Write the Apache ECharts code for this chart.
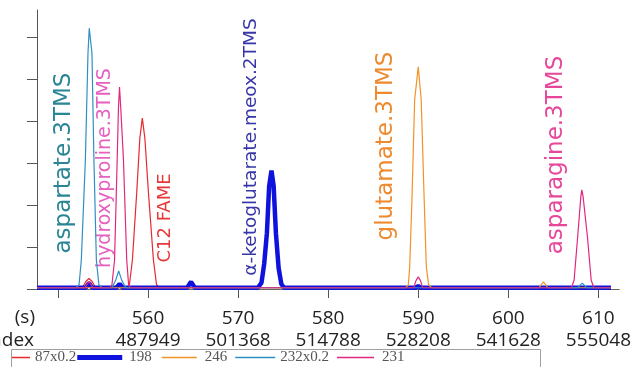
<!DOCTYPE html>
<html>
<head>
<meta charset="utf-8">
<script src="https://cdn.jsdelivr.net/npm/echarts@6/dist/echarts.min.js"></script>
<style>
  html, body { margin: 0; padding: 0; background: #ffffff; }
  #chart { width: 634px; height: 367px; }
</style>
</head>
<body>
<div id="chart"></div>
<script>
// Extracted-ion traces: retention time (s) and intensity (arbitrary units)
const traceNames = ['87x0.2', '198', '246', '232x0.2', '231'];

const t87 = [547.68, 552.7, 553.1, 553.45, 553.8, 554.2, 557.9, 558.27, 558.75, 559.1, 559.37, 559.65, 560.05, 560.6, 560.95, 561.3, 611.4];
const v87 = [0.03, 0.03, 0.18, 0.25, 0.18, 0.03, 0.03, 0.69, 2.3, 3.6, 4.07, 3.6, 2.3, 0.7, 0.1, 0.03, 0.03];

const t198 = [547.68, 553.1, 553.45, 553.8, 556.5, 556.85, 557.2, 564.35, 564.78, 565.2, 572.2, 572.6, 572.9, 573.2, 573.45, 573.71, 573.95, 574.2, 574.5, 574.8, 575.1, 589.7, 590.0, 590.3, 611.4];
const v198 = [0.03, 0.03, 0.14, 0.03, 0.03, 0.12, 0.03, 0.03, 0.17, 0.03, 0.03, 0.15, 0.6, 1.33, 2.45, 2.82, 2.45, 1.33, 0.5, 0.12, 0.03, 0.03, 0.07, 0.03, 0.03];

const t246 = [547.68, 588.6, 588.9, 589.05, 589.3, 589.6, 590.0, 590.33, 590.66, 590.9, 591.15, 591.5, 603.4, 603.9, 604.4, 611.4];
const v246 = [0.03, 0.03, 0.1, 0.52, 2.12, 4.5, 5.29, 4.5, 2.12, 0.52, 0.1, 0.03, 0.03, 0.17, 0.03, 0.03];

const t232 = [547.68, 552.0, 552.35, 552.6, 553.05, 553.34, 553.48, 553.78, 554.0, 554.27, 554.55, 554.9, 556.0, 556.4, 556.75, 557.1, 557.55, 607.7, 608.2, 608.7, 611.4];
const v232 = [0.03, 0.03, 0.1, 0.69, 3.07, 5.62, 6.21, 5.62, 3.07, 0.69, 0.1, 0.03, 0.03, 0.2, 0.43, 0.2, 0.03, 0.03, 0.14, 0.03, 0.03];

const t231 = [547.68, 553.0, 553.45, 553.9, 555.8, 556.0, 556.29, 556.58, 556.72, 556.84, 556.98, 557.28, 557.64, 557.85, 558.1, 589.5, 589.75, 590.0, 590.25, 590.5, 607.0, 607.3, 607.7, 608.05, 608.16, 608.3, 608.78, 609.2, 609.5, 611.4];
const v231 = [0.03, 0.03, 0.18, 0.03, 0.03, 0.1, 0.69, 3.07, 4.3, 4.81, 4.3, 3.07, 0.69, 0.1, 0.03, 0.03, 0.2, 0.29, 0.2, 0.03, 0.03, 0.21, 1.25, 2.2, 2.36, 2.2, 1.25, 0.21, 0.03, 0.03];

// Axis ticks and the scan-index row printed under each time label
const timeTicks = [550, 560, 570, 580, 590, 600, 610];
const timeLabels = [560, 570, 580, 590, 600, 610];
const scanIndex = ['487949', '501368', '514788', '528208', '541628', '555048'];
const intensityTicks = [0, 1, 2, 3, 4, 5, 6];

// Compound annotations
const compoundNames = ['aspartate.3TMS', 'hydroxyproline.3TMS', 'C12 FAME', '\u03b1-ketoglutarate.meox.2TMS', 'glutamate.3TMS', 'asparagine.3TMS'];

const times = [t87, t198, t246, t232, t231];
const values = [v87, v198, v246, v232, v231];
const colors = ['#e62a2e', '#0f12dc', '#f39226', '#2f8fc4', '#e2287c'];
const widths = [1.2, 4.5, 1.2, 1.2, 1.2];

function pairs(t, v) { return t.map((x, i) => [x, v[i]]); }

const series = traceNames.map((name, i) => ({
  name: name,
  type: 'line',
  data: pairs(times[i], values[i]),
  symbol: 'none',
  showSymbol: false,
  smooth: false,
  lineStyle: { color: colors[i], width: widths[i] },
  itemStyle: { color: colors[i] },
  emphasis: { disabled: true }
}));

// Legend swatches: a line segment inside a 48x14 box (corner dots fix the box size)
function swatch(x0, x1, thick) {
  const y = 7 - thick / 2;
  return 'path://M0,0h0.01v0.01h-0.01z M47.99,13.99h0.01v0.01h-0.01z ' +
    'M' + x0 + ',' + y + 'h' + (x1 - x0) + 'v' + thick + 'h' + (x0 - x1) + 'z';
}
const legendIcons = [swatch(30, 48, 1.3), swatch(1, 46, 5), swatch(10, 45, 1.3), swatch(8, 48, 1.3), swatch(8, 45, 1.3)];
const legendTextWidths = [69, 48, 64, 42, 40];

const annotationStyle = [
  { x: 64,  y: 163, size: 23, color: '#2a8595' },
  { x: 105, y: 168, size: 19, color: '#e660c0' },
  { x: 165, y: 218, size: 18, color: '#e63838' },
  { x: 251, y: 147, size: 18.5, color: '#3636a8' },
  { x: 386, y: 146, size: 23, color: '#ee8a2e' },
  { x: 556, y: 155, size: 23, color: '#e6479a' }
];

const annoFont = '"DejaVu Sans", sans-serif';
const axisFont = '"Open Sans", sans-serif';

const graphics = compoundNames.map((txt, i) => ({
  type: 'text',
  x: annotationStyle[i].x,
  y: annotationStyle[i].y,
  rotation: Math.PI / 2,
  silent: true,
  style: {
    text: txt,
    fill: annotationStyle[i].color,
    fontSize: annotationStyle[i].size,
    fontFamily: annoFont,
    align: 'center',
    verticalAlign: 'middle'
  }
}));

// Row titles at the left of the two tick-label rows
graphics.push({
  type: 'text', x: 35, y: 318, silent: true,
  style: { text: '(s)', fill: '#222', fontSize: 19, fontFamily: axisFont, align: 'right', verticalAlign: 'middle' }
});
graphics.push({
  type: 'text', x: 34, y: 341, silent: true,
  style: { text: 'Index', fill: '#222', fontSize: 19, fontFamily: axisFont, align: 'right', verticalAlign: 'middle' }
});
// Legend frame
graphics.push({
  type: 'rect', z: -1, silent: true,
  shape: { x: 11.5, y: 349.5, width: 529, height: 20 },
  style: { fill: '#ffffff', stroke: '#a0a0a0', lineWidth: 1 }
});

const chart = echarts.init(document.getElementById('chart'), null, { renderer: 'canvas' });

chart.setOption({
  animation: false,
  backgroundColor: '#ffffff',
  grid: { left: 37, right: 11, top: 10, bottom: 78, containLabel: false },
  xAxis: {
    type: 'value',
    min: 547.68,
    max: 612.31,
    axisLine: { show: true, lineStyle: { color: '#666', width: 1 } },
    axisTick: { show: true, customValues: timeTicks, length: 9, lineStyle: { color: '#555', width: 1 } },
    axisLabel: {
      show: true,
      customValues: timeLabels,
      margin: 19,
      color: '#222',
      fontSize: 19,
      fontFamily: axisFont,
      lineHeight: 22,
      formatter: function (v) {
        const i = timeLabels.indexOf(Math.round(v));
        return v.toFixed(0) + '\n' + (i >= 0 ? scanIndex[i] : '');
      }
    },
    splitLine: { show: false }
  },
  yAxis: {
    type: 'value',
    min: 0,
    max: 6.643,
    axisLine: { show: true, lineStyle: { color: '#555', width: 1 } },
    axisTick: { show: true, customValues: intensityTicks, length: 10, inside: false, lineStyle: { color: '#555', width: 1 } },
    axisLabel: { show: false },
    splitLine: { show: false }
  },
  legend: {
    left: -18,
    top: 350,
    orient: 'horizontal',
    padding: 0,
    itemGap: 0,
    itemWidth: 48,
    itemHeight: 14,
    selectedMode: false,
    textStyle: { color: '#555', fontSize: 15, fontFamily: '"Liberation Serif", serif' },
    data: traceNames.map((n, i) => ({
      name: n,
      icon: legendIcons[i],
      itemStyle: { color: colors[i], borderWidth: 0 },
      textStyle: { width: legendTextWidths[i] }
    }))
  },
  series: series,
  graphic: graphics
});
</script>
</body>
</html>
